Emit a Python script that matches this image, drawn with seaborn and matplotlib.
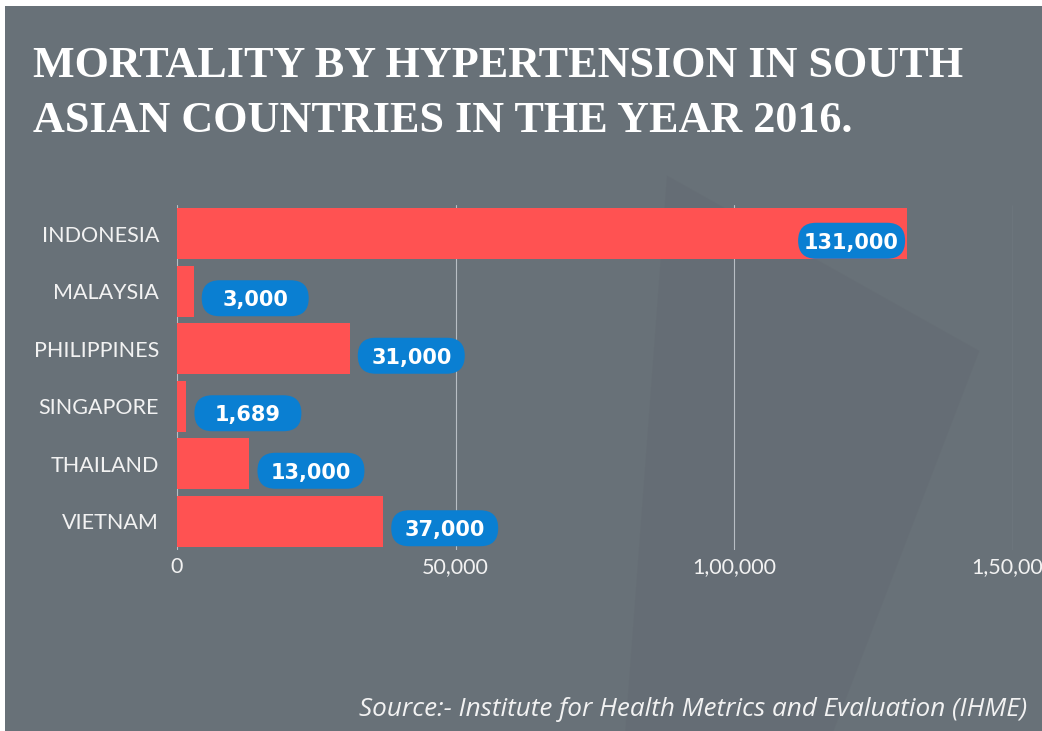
import matplotlib
matplotlib.use("Agg")
import matplotlib.pyplot as plt
import matplotlib.patches as mpatches
import matplotlib.transforms as mtransforms
import seaborn as sns
import pandas as pd

# ----------------------------------------------------------
# Data
# ----------------------------------------------------------

countries = ["INDONESIA", "MALAYSIA", "PHILIPPINES", "SINGAPORE", "THAILAND", "VIETNAM"]
deaths = [131000, 3000, 31000, 1689, 13000, 37000]
value_labels = ["131,000", "3,000", "31,000", "1,689", "13,000", "37,000"]
x_ticks = [0, 50000, 100000, 150000]
x_tick_labels = ["0", "50,000", "1,00,000", "1,50,000"]

title_text = "MORTALITY BY HYPERTENSION IN SOUTH\nASIAN COUNTRIES IN THE YEAR 2016."
source_text = "Source:- Institute for Health Metrics and Evaluation (IHME)"

df = pd.DataFrame({"country": countries, "deaths": deaths})

# ----------------------------------------------------------
# Colours
# ----------------------------------------------------------

bg_color = "#687178"
bar_color = "#ff5252"
pill_color = "#0a7fd2"
text_color = "#f2f2f2"

sns.set_style("white")
plt.rcParams["font.family"] = ["Lato", "DejaVu Sans"]

fig = plt.figure(figsize=(10.42, 7.31), dpi=100, facecolor="white")

# grey card with a thin white border on the top and left
fig.patches.append(mpatches.Rectangle(
    (5 / 1042, 0), 1, 1 - 6 / 731,
    transform=fig.transFigure, facecolor=bg_color, edgecolor="none", zorder=-2
))
# faint background shape
fig.patches.append(mpatches.Polygon(
    [(0.64, 0.76), (0.94, 0.52), (0.80, 0.0), (0.60, 0.0)],
    closed=True, transform=fig.transFigure,
    facecolor="#646b73", edgecolor="none", alpha=0.5, zorder=-1
))

ax = fig.add_axes([177 / 1042, 1 - 550 / 731, (1013 - 177) / 1042, 345 / 731])
ax.set_facecolor("none")

sns.barplot(
    data=df,
    x="deaths",
    y="country",
    color=bar_color,
    saturation=1,
    width=0.89,
    orient="h",
    edgecolor="none",
    linewidth=0,
    ax=ax,
    zorder=2
)

ax.set_xlim(0, 150000)
ax.set_xticks(x_ticks)
ax.set_xticklabels(x_tick_labels)
ax.set_xlabel("")
ax.set_ylabel("")

for x in x_ticks:
    ax.axvline(x, color="#b8bec4", linewidth=0.8, zorder=1)

for spine in ax.spines.values():
    spine.set_visible(False)

ax.tick_params(axis="x", length=0, pad=5, labelsize=15.5, labelcolor=text_color)
ax.tick_params(axis="y", length=0, pad=13, labelsize=15.5, labelcolor=text_color)

# ----------------------------------------------------------
# Value pills (fixed size in pixels, anchored at the bar end)
# ----------------------------------------------------------

pill_w, pill_h = 107, 36

for i, (val, lab) in enumerate(zip(deaths, value_labels)):
    anchor = mtransforms.Affine2D() + mtransforms.ScaledTranslation(val, i, ax.transData)
    if val > 100000:
        x0 = -2 - pill_w
    else:
        x0 = 8
    y0 = -7 - pill_h / 2
    pill = mpatches.FancyBboxPatch(
        (x0, y0), pill_w, pill_h,
        boxstyle="round,pad=0,rounding_size=18",
        transform=anchor,
        facecolor=pill_color,
        edgecolor="none",
        clip_on=False,
        zorder=4
    )
    ax.add_artist(pill)
    ax.text(
        x0 + pill_w / 2, y0 + pill_h / 2,
        lab,
        transform=anchor,
        ha="center",
        va="center_baseline",
        fontsize=15,
        fontweight="bold",
        family="DejaVu Sans",
        color="white",
        zorder=5
    )

# ----------------------------------------------------------
# Title & source
# ----------------------------------------------------------

fig.text(
    33 / 1042, 1 - 46 / 731,
    title_text,
    ha="left",
    va="top",
    fontsize=31.8,
    fontweight="bold",
    family="Liberation Serif",
    color="white",
    linespacing=1.47
)

fig.text(
    1027 / 1042, 1 - 710 / 731,
    source_text,
    ha="right",
    va="center",
    fontsize=18.8,
    style="italic",
    family=["Open Sans", "DejaVu Sans"],
    color=text_color
)

fig.savefig("out.png", dpi=100, facecolor="white")
plt.close()
